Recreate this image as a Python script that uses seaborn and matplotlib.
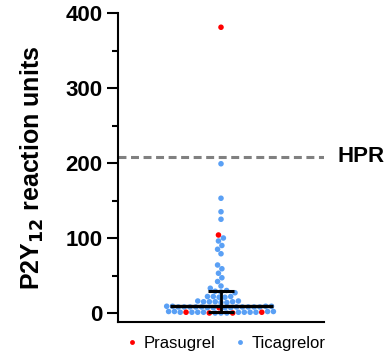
import numpy as np
import pandas as pd
import matplotlib
matplotlib.use("Agg")
import matplotlib.pyplot as plt
from matplotlib.lines import Line2D
from matplotlib.ticker import MultipleLocator
import seaborn as sns

# ---- data ----
prasugrel = [381, 104, 7, 1, 1, 0, 0]
ticagrelor = [199, 153, 135, 125, 100, 96, 90, 85, 79, 64, 59, 53, 47, 42, 36, 33,
              30, 29, 28, 27,
              22, 21, 22, 21, 22,
              16, 15, 15, 14, 15, 16, 14, 15,
              9, 8, 8, 7, 8, 9, 8, 7, 8, 9, 8, 7, 8, 8, 9, 8, 7, 8,
              2, 1, 1, 0, 1, 2, 1, 0, 1, 2, 1, 0, 1, 2, 1]
drug_labels = ["Prasugrel", "Ticagrelor"]
drug_colors = ["#FF0000", "#5AA0F5"]
hpr_threshold = 208
y_ticks = [0, 100, 200, 300, 400]

# ---- style ----
sns.set_theme(style="ticks")
plt.rcParams["font.family"] = ["Liberation Sans", "DejaVu Sans"]
for k in ["text.color", "axes.labelcolor", "xtick.color", "ytick.color", "axes.edgecolor"]:
    plt.rcParams[k] = "black"

df = pd.DataFrame({
    "group": ["all"] * (len(ticagrelor) + len(prasugrel)),
    "value": ticagrelor + prasugrel,
    "drug": ["Ticagrelor"] * len(ticagrelor) + ["Prasugrel"] * len(prasugrel),
})
palette = dict(zip(drug_labels, drug_colors))

fig = plt.figure(figsize=(3.84, 3.54), dpi=100)
ax = fig.add_axes([118 / 384, 1 - 322 / 354, 206 / 384, 309 / 354])

sns.swarmplot(data=df, x="group", y="value", hue="drug", hue_order=drug_labels,
              palette=palette, size=4.0, linewidth=0, ax=ax, legend=False, zorder=2)

ax.set_xlim(-0.5, 0.5)
ax.set_ylim(-12, 400)

# median with interquartile range
vals = np.array(df["value"], dtype=float)
q1, med, q3 = np.percentile(vals, [25, 50, 75])
ax.hlines(med, -0.25, 0.25, color="black", lw=2.4, zorder=4)
ax.vlines(0, q1, q3, color="black", lw=2.0, zorder=4)
ax.hlines([q1, q3], -0.065, 0.065, color="black", lw=2.2, zorder=4)

# HPR threshold
ax.axhline(hpr_threshold, color="#808080", lw=2.2, linestyle=(0, (2.6, 1.5)), zorder=1)
ax.text(1.065, hpr_threshold, "HPR", transform=ax.get_yaxis_transform(),
        ha="left", va="center", fontsize=16, fontweight="bold", color="black")

# axes styling
sns.despine(ax=ax)
for s in ["left", "bottom"]:
    ax.spines[s].set_linewidth(1.5)
    ax.spines[s].set_color("black")
ax.set_yticks(y_ticks)
ax.yaxis.set_minor_locator(MultipleLocator(50))
ax.tick_params(axis="y", which="major", length=8, width=1.5, pad=3,
               labelsize=16, color="black", labelcolor="black")
ax.tick_params(axis="y", which="minor", length=4.3, width=1.5, color="black")
for lab in ax.get_yticklabels():
    lab.set_fontweight("bold")
ax.set_xticks([])
ax.set_xlabel("")
ax.set_ylabel("P2Y$_{\\mathbf{12}}$ reaction units", fontsize=18, fontweight="bold",
              labelpad=14, color="black")

handles = [Line2D([], [], marker="o", linestyle="", markersize=3.5,
                  markerfacecolor=c, markeredgewidth=0) for c in drug_colors]
fig.legend(handles, drug_labels, loc="center", bbox_to_anchor=(0.585, 0.031),
           ncol=2, frameon=False, fontsize=12, handletextpad=0.2,
           columnspacing=1.0, handlelength=1.0, borderaxespad=0)

fig.savefig("out.png", dpi=100)
